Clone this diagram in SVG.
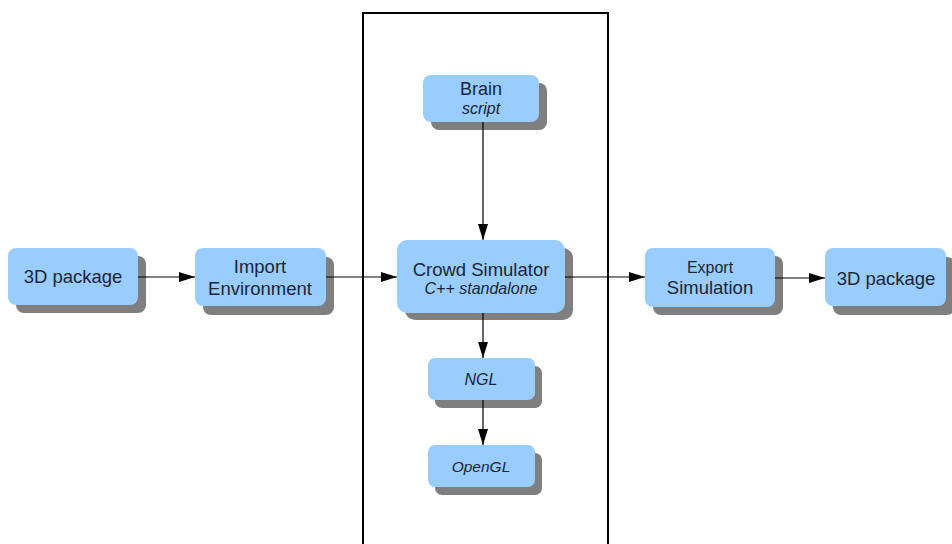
<svg xmlns="http://www.w3.org/2000/svg" width="952" height="544" viewBox="0 0 952 544">
<defs>
<style>
.sh{fill:#7f7f7f}
.bx{fill:#99ccff}
.t{font-family:"Liberation Sans",Arial,sans-serif;fill:#1b2636;text-anchor:middle}
.i{font-style:italic}
.ln{stroke:#000;stroke-width:1.2;fill:none}
</style>
<marker id="ah" markerWidth="16" markerHeight="10" refX="16" refY="5" orient="auto" markerUnits="userSpaceOnUse">
<path d="M0,0 L16,5 L0,10 Z" fill="#000"/>
</marker>
</defs>
<rect width="952" height="544" fill="#fff"/>
<rect x="363" y="13" width="245" height="540" fill="none" stroke="#000" stroke-width="2"/>
<g id="pkg1">
<rect class="sh" x="16" y="256" width="130" height="57" rx="8"/>
<rect class="bx" x="8" y="248" width="130" height="57" rx="8"/>
<text class="t" x="73" y="283" font-size="18.5">3D package</text>
</g>
<g id="import">
<rect class="sh" x="203" y="257" width="131" height="58" rx="8"/>
<rect class="bx" x="195" y="248" width="131" height="58" rx="8"/>
<text class="t" x="260" y="273" font-size="18.5">Import</text>
<text class="t" x="260" y="295" font-size="18.5">Environment</text>
</g>
<g id="brain">
<rect class="sh" x="431" y="83" width="116" height="47" rx="8"/>
<rect class="bx" x="423" y="75" width="116" height="47" rx="8"/>
<text class="t" x="481" y="95" font-size="18">Brain</text>
<text class="t i" x="481" y="114" font-size="16">script</text>
</g>
<g id="crowd">
<rect class="sh" x="405" y="248" width="168" height="72" rx="10"/>
<rect class="bx" x="397" y="240" width="168" height="73" rx="10"/>
<text class="t" x="481" y="276" font-size="18.5">Crowd Simulator</text>
<text class="t i" x="481" y="294" font-size="16">C++ standalone</text>
</g>
<g id="ngl">
<rect class="sh" x="435" y="366" width="107" height="42" rx="7"/>
<rect class="bx" x="428" y="358" width="107" height="42" rx="7"/>
<text class="t i" x="481" y="385" font-size="16">NGL</text>
</g>
<g id="opengl">
<rect class="sh" x="435" y="453" width="107" height="42" rx="7"/>
<rect class="bx" x="428" y="445" width="107" height="42" rx="7"/>
<text class="t i" x="481" y="472" font-size="15.5">OpenGL</text>
</g>
<g id="export">
<rect class="sh" x="653" y="256" width="130" height="59" rx="8"/>
<rect class="bx" x="645" y="248" width="130" height="59" rx="8"/>
<text class="t" x="710" y="273" font-size="16">Export</text>
<text class="t" x="710" y="294" font-size="18.5">Simulation</text>
</g>
<g id="pkg2">
<rect class="sh" x="833" y="257" width="122" height="58" rx="8"/>
<rect class="bx" x="825" y="248" width="121" height="58" rx="8"/>
<text class="t" x="886" y="285" font-size="18.5">3D package</text>
</g>
<g id="connectors">
<line class="ln" x1="138" y1="277" x2="195" y2="277" marker-end="url(#ah)"/>
<line class="ln" x1="326" y1="277" x2="397" y2="277" marker-end="url(#ah)"/>
<line class="ln" x1="565" y1="277" x2="645" y2="277" marker-end="url(#ah)"/>
<line class="ln" x1="775" y1="278" x2="825" y2="278" marker-end="url(#ah)"/>
<line class="ln" x1="483" y1="122" x2="483" y2="240" marker-end="url(#ah)"/>
<line class="ln" x1="483" y1="313" x2="483" y2="358" marker-end="url(#ah)"/>
<line class="ln" x1="483" y1="400" x2="483" y2="445" marker-end="url(#ah)"/>
</g>
</svg>
